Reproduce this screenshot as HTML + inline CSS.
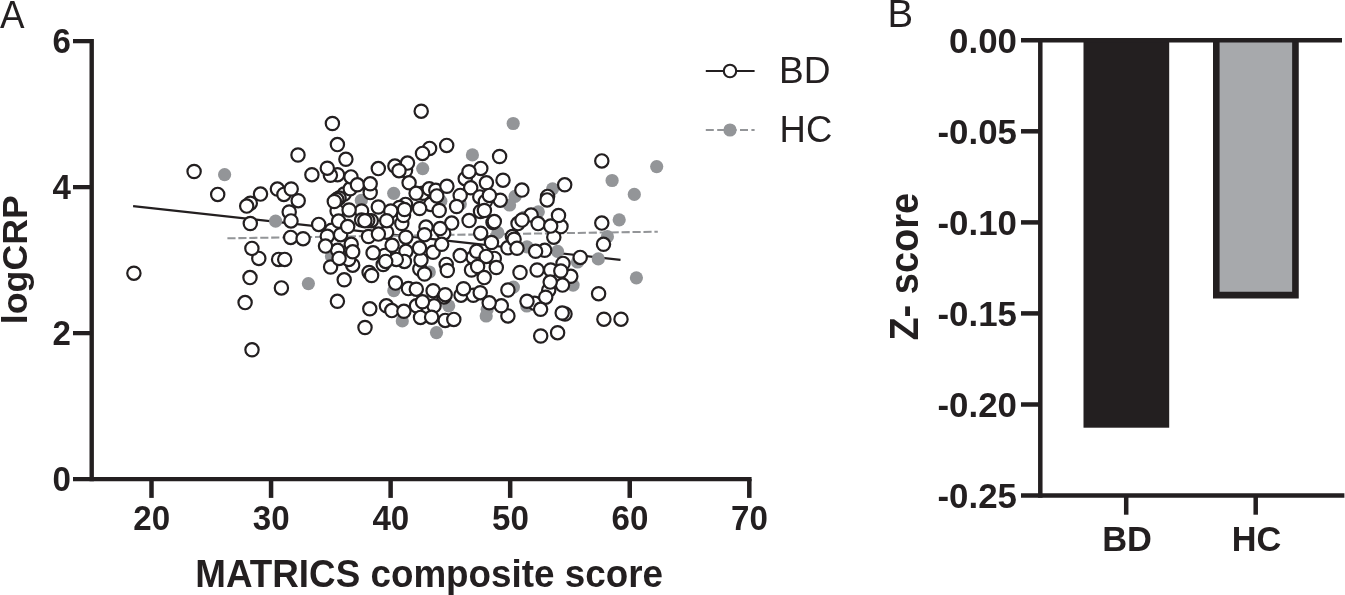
<!DOCTYPE html>
<html><head><meta charset="utf-8"><title>Figure</title>
<style>
html,body{margin:0;padding:0;background:#fff;}
svg{display:block;font-family:"Liberation Sans",Arial,Helvetica,sans-serif;}
text{fill:#231f20;}
.b{font-weight:bold;}
</style></head><body>
<svg width="1345" height="595" viewBox="0 0 1345 595">
<rect width="1345" height="595" fill="#fff"/>

<text transform="translate(0.00,28.00) scale(0.968,1)" font-size="38">A</text>
<g stroke="#231f20" fill="none">
<path d="M91.7 39.05V481.2" stroke-width="4.4"/>
<path d="M73 479.15H751.6" stroke-width="4.2"/>
<path d="M73 333.15H91.7" stroke-width="4.25"/>
<path d="M73 187.15H91.7" stroke-width="4.25"/>
<path d="M73 41.15H91.7" stroke-width="4.25"/>
<path d="M151.50 479V497.9" stroke-width="4.5"/>
<path d="M271.06 479V497.9" stroke-width="4.5"/>
<path d="M390.62 479V497.9" stroke-width="4.5"/>
<path d="M510.18 479V497.9" stroke-width="4.5"/>
<path d="M629.74 479V497.9" stroke-width="4.5"/>
<path d="M749.30 479V497.9" stroke-width="4.5"/>
</g>
<text class="b" transform="translate(71.00,490.65) scale(0.957,1)" font-size="34.6" text-anchor="end">0</text>
<text class="b" transform="translate(71.00,344.65) scale(0.957,1)" font-size="34.6" text-anchor="end">2</text>
<text class="b" transform="translate(71.00,198.65) scale(0.957,1)" font-size="34.6" text-anchor="end">4</text>
<text class="b" transform="translate(71.00,52.65) scale(0.957,1)" font-size="34.6" text-anchor="end">6</text>
<text class="b" transform="translate(151.70,530.40) scale(0.957,1)" font-size="34.6" text-anchor="middle">20</text>
<text class="b" transform="translate(271.26,530.40) scale(0.957,1)" font-size="34.6" text-anchor="middle">30</text>
<text class="b" transform="translate(390.82,530.40) scale(0.957,1)" font-size="34.6" text-anchor="middle">40</text>
<text class="b" transform="translate(510.38,530.40) scale(0.957,1)" font-size="34.6" text-anchor="middle">50</text>
<text class="b" transform="translate(629.94,530.40) scale(0.957,1)" font-size="34.6" text-anchor="middle">60</text>
<text class="b" transform="translate(749.50,530.40) scale(0.957,1)" font-size="34.6" text-anchor="middle">70</text>
<text class="b" transform="translate(195.30,587.10) scale(0.9662,1)" font-size="38.1">MATRICS composite score</text>
<text class="b" transform="translate(27.30,324.20) rotate(-90) scale(0.999,1)" font-size="35.8">logCRP</text>
<path d="M705.8 71H754.6" stroke="#231f20" stroke-width="2.2"/>
<circle cx="730" cy="71" r="6.2" fill="#fff" stroke="#231f20" stroke-width="2.1"/>
<path d="M705.8 130H754.6" stroke="#939598" stroke-width="2" stroke-dasharray="8 3.4"/>
<circle cx="730" cy="130" r="6.6" fill="#939598"/>
<text transform="translate(779.10,83.10)" font-size="37.1">BD</text>
<text transform="translate(779.60,142.10) scale(0.98,1)" font-size="37.2">HC</text>
<path d="M133.1 206.1L620.5 259.9" stroke="#231f20" stroke-width="2.15" fill="none"/>
<path d="M227.4 238.3L657.8 231.7" stroke="#939598" stroke-width="2.05" stroke-dasharray="8.15 2.8" fill="none"/>
<g fill="#939598">
<circle cx="224.6" cy="174.6" r="6.6"/>
<circle cx="513.2" cy="123.5" r="6.6"/>
<circle cx="472.4" cy="154.9" r="6.6"/>
<circle cx="422.7" cy="168.6" r="6.6"/>
<circle cx="393.7" cy="193.3" r="6.6"/>
<circle cx="361.3" cy="200.4" r="6.6"/>
<circle cx="515.1" cy="196.4" r="6.6"/>
<circle cx="509.6" cy="205.0" r="6.6"/>
<circle cx="440.8" cy="201.2" r="6.6"/>
<circle cx="460.3" cy="204.0" r="6.6"/>
<circle cx="538.3" cy="211.8" r="6.6"/>
<circle cx="524.0" cy="217.3" r="6.6"/>
<circle cx="612.1" cy="180.5" r="6.6"/>
<circle cx="634.3" cy="194.4" r="6.6"/>
<circle cx="552.6" cy="188.8" r="6.6"/>
<circle cx="656.7" cy="166.6" r="6.6"/>
<circle cx="275.6" cy="221.1" r="6.6"/>
<circle cx="331.5" cy="256.5" r="6.6"/>
<circle cx="429.3" cy="272.0" r="6.6"/>
<circle cx="497.8" cy="232.7" r="6.6"/>
<circle cx="527.0" cy="246.8" r="6.6"/>
<circle cx="557.5" cy="251.3" r="6.6"/>
<circle cx="619.2" cy="219.8" r="6.6"/>
<circle cx="607.4" cy="236.7" r="6.6"/>
<circle cx="598.3" cy="258.9" r="6.6"/>
<circle cx="577.5" cy="262.0" r="6.6"/>
<circle cx="308.4" cy="283.6" r="6.6"/>
<circle cx="393.8" cy="290.7" r="6.6"/>
<circle cx="448.7" cy="305.8" r="6.6"/>
<circle cx="402.3" cy="320.9" r="6.6"/>
<circle cx="436.5" cy="332.6" r="6.6"/>
<circle cx="513.4" cy="287.1" r="6.6"/>
<circle cx="526.8" cy="306.0" r="6.6"/>
<circle cx="487.2" cy="309.3" r="6.6"/>
<circle cx="486.2" cy="316.0" r="6.6"/>
<circle cx="636.4" cy="277.8" r="6.6"/>
<circle cx="573.1" cy="285.1" r="6.6"/>
</g>
<g fill="#fff" stroke="#231f20" stroke-width="2.2">
<circle cx="344.2" cy="194.0" r="6.65"/>
<circle cx="250.3" cy="203.2" r="6.65"/>
<circle cx="258.8" cy="258.4" r="6.65"/>
<circle cx="429.6" cy="148.4" r="6.65"/>
<circle cx="337.5" cy="174.7" r="6.65"/>
<circle cx="350.2" cy="188.8" r="6.65"/>
<circle cx="277.4" cy="189.1" r="6.65"/>
<circle cx="370.2" cy="192.6" r="6.65"/>
<circle cx="394.9" cy="166.1" r="6.65"/>
<circle cx="405.5" cy="170.5" r="6.65"/>
<circle cx="422.7" cy="193.3" r="6.65"/>
<circle cx="429.2" cy="188.8" r="6.65"/>
<circle cx="361.6" cy="211.0" r="6.65"/>
<circle cx="405.5" cy="204.4" r="6.65"/>
<circle cx="465.2" cy="178.7" r="6.65"/>
<circle cx="470.7" cy="187.8" r="6.65"/>
<circle cx="479.8" cy="196.9" r="6.65"/>
<circle cx="480.5" cy="211.5" r="6.65"/>
<circle cx="547.6" cy="196.4" r="6.65"/>
<circle cx="289.2" cy="212.0" r="6.65"/>
<circle cx="278.6" cy="259.4" r="6.65"/>
<circle cx="331.6" cy="230.2" r="6.65"/>
<circle cx="337.1" cy="211.0" r="6.65"/>
<circle cx="351.2" cy="244.3" r="6.65"/>
<circle cx="337.6" cy="250.3" r="6.65"/>
<circle cx="352.7" cy="265.2" r="6.65"/>
<circle cx="361.6" cy="220.1" r="6.65"/>
<circle cx="371.3" cy="220.7" r="6.65"/>
<circle cx="368.5" cy="236.5" r="6.65"/>
<circle cx="386.6" cy="232.2" r="6.65"/>
<circle cx="401.8" cy="223.5" r="6.65"/>
<circle cx="443.7" cy="233.2" r="6.65"/>
<circle cx="426.0" cy="227.1" r="6.65"/>
<circle cx="405.9" cy="251.3" r="6.65"/>
<circle cx="433.1" cy="252.3" r="6.65"/>
<circle cx="383.2" cy="264.5" r="6.65"/>
<circle cx="384.7" cy="255.4" r="6.65"/>
<circle cx="404.4" cy="261.4" r="6.65"/>
<circle cx="419.8" cy="269.0" r="6.65"/>
<circle cx="446.2" cy="264.4" r="6.65"/>
<circle cx="493.0" cy="222.5" r="6.65"/>
<circle cx="518.0" cy="223.6" r="6.65"/>
<circle cx="531.1" cy="215.0" r="6.65"/>
<circle cx="553.8" cy="237.2" r="6.65"/>
<circle cx="561.0" cy="226.6" r="6.65"/>
<circle cx="512.4" cy="236.6" r="6.65"/>
<circle cx="507.9" cy="247.8" r="6.65"/>
<circle cx="544.7" cy="250.3" r="6.65"/>
<circle cx="473.1" cy="257.4" r="6.65"/>
<circle cx="471.5" cy="270.0" r="6.65"/>
<circle cx="494.3" cy="258.4" r="6.65"/>
<circle cx="563.0" cy="263.4" r="6.65"/>
<circle cx="570.8" cy="276.3" r="6.65"/>
<circle cx="369.1" cy="272.5" r="6.65"/>
<circle cx="408.4" cy="288.6" r="6.65"/>
<circle cx="433.1" cy="290.7" r="6.65"/>
<circle cx="443.9" cy="296.9" r="6.65"/>
<circle cx="416.5" cy="305.8" r="6.65"/>
<circle cx="434.1" cy="305.8" r="6.65"/>
<circle cx="386.4" cy="305.8" r="6.65"/>
<circle cx="420.5" cy="317.4" r="6.65"/>
<circle cx="445.2" cy="320.4" r="6.65"/>
<circle cx="548.7" cy="290.2" r="6.65"/>
<circle cx="534.6" cy="303.3" r="6.65"/>
<circle cx="461.0" cy="295.2" r="6.65"/>
<circle cx="473.3" cy="295.3" r="6.65"/>
<circle cx="507.9" cy="315.9" r="6.65"/>
<circle cx="565.0" cy="314.0" r="6.65"/>
<circle cx="194.1" cy="171.5" r="6.65"/>
<circle cx="217.7" cy="194.4" r="6.65"/>
<circle cx="260.5" cy="194.1" r="6.65"/>
<circle cx="250.3" cy="223.5" r="6.65"/>
<circle cx="133.9" cy="273.2" r="6.65"/>
<circle cx="250.0" cy="277.6" r="6.65"/>
<circle cx="245.1" cy="302.6" r="6.65"/>
<circle cx="252.0" cy="349.8" r="6.65"/>
<circle cx="332.4" cy="123.5" r="6.65"/>
<circle cx="337.4" cy="144.6" r="6.65"/>
<circle cx="298.0" cy="155.0" r="6.65"/>
<circle cx="421.2" cy="111.2" r="6.65"/>
<circle cx="446.7" cy="145.4" r="6.65"/>
<circle cx="499.6" cy="156.5" r="6.65"/>
<circle cx="345.9" cy="159.3" r="6.65"/>
<circle cx="330.4" cy="175.3" r="6.65"/>
<circle cx="311.9" cy="174.7" r="6.65"/>
<circle cx="351.0" cy="176.9" r="6.65"/>
<circle cx="283.9" cy="194.4" r="6.65"/>
<circle cx="298.2" cy="200.7" r="6.65"/>
<circle cx="339.1" cy="198.0" r="6.65"/>
<circle cx="378.3" cy="168.6" r="6.65"/>
<circle cx="407.5" cy="163.1" r="6.65"/>
<circle cx="409.1" cy="182.8" r="6.65"/>
<circle cx="435.8" cy="190.3" r="6.65"/>
<circle cx="430.7" cy="204.4" r="6.65"/>
<circle cx="378.3" cy="207.0" r="6.65"/>
<circle cx="349.1" cy="210.0" r="6.65"/>
<circle cx="399.5" cy="207.5" r="6.65"/>
<circle cx="419.6" cy="208.5" r="6.65"/>
<circle cx="390.8" cy="211.0" r="6.65"/>
<circle cx="439.2" cy="210.5" r="6.65"/>
<circle cx="480.8" cy="168.4" r="6.65"/>
<circle cx="486.4" cy="182.8" r="6.65"/>
<circle cx="503.0" cy="180.2" r="6.65"/>
<circle cx="521.9" cy="190.1" r="6.65"/>
<circle cx="446.9" cy="186.3" r="6.65"/>
<circle cx="460.2" cy="195.4" r="6.65"/>
<circle cx="485.4" cy="201.4" r="6.65"/>
<circle cx="500.2" cy="200.2" r="6.65"/>
<circle cx="456.6" cy="206.5" r="6.65"/>
<circle cx="601.8" cy="160.9" r="6.65"/>
<circle cx="564.7" cy="184.8" r="6.65"/>
<circle cx="318.7" cy="224.4" r="6.65"/>
<circle cx="290.7" cy="237.4" r="6.65"/>
<circle cx="327.3" cy="236.2" r="6.65"/>
<circle cx="338.6" cy="221.1" r="6.65"/>
<circle cx="340.6" cy="234.7" r="6.65"/>
<circle cx="330.6" cy="267.0" r="6.65"/>
<circle cx="348.7" cy="259.4" r="6.65"/>
<circle cx="367.7" cy="220.4" r="6.65"/>
<circle cx="386.7" cy="220.7" r="6.65"/>
<circle cx="403.5" cy="215.5" r="6.65"/>
<circle cx="451.7" cy="223.1" r="6.65"/>
<circle cx="405.9" cy="237.2" r="6.65"/>
<circle cx="392.1" cy="245.3" r="6.65"/>
<circle cx="373.1" cy="252.8" r="6.65"/>
<circle cx="396.3" cy="259.4" r="6.65"/>
<circle cx="421.0" cy="259.9" r="6.65"/>
<circle cx="460.2" cy="255.6" r="6.65"/>
<circle cx="469.1" cy="220.6" r="6.65"/>
<circle cx="480.7" cy="233.2" r="6.65"/>
<circle cx="538.1" cy="223.6" r="6.65"/>
<circle cx="558.5" cy="215.5" r="6.65"/>
<circle cx="514.1" cy="239.2" r="6.65"/>
<circle cx="476.6" cy="251.3" r="6.65"/>
<circle cx="496.3" cy="267.5" r="6.65"/>
<circle cx="520.0" cy="272.5" r="6.65"/>
<circle cx="537.1" cy="270.0" r="6.65"/>
<circle cx="550.7" cy="270.0" r="6.65"/>
<circle cx="601.8" cy="223.1" r="6.65"/>
<circle cx="603.5" cy="244.3" r="6.65"/>
<circle cx="580.2" cy="257.4" r="6.65"/>
<circle cx="281.4" cy="287.9" r="6.65"/>
<circle cx="344.2" cy="279.8" r="6.65"/>
<circle cx="337.4" cy="301.3" r="6.65"/>
<circle cx="369.8" cy="308.8" r="6.65"/>
<circle cx="365.0" cy="327.5" r="6.65"/>
<circle cx="562.5" cy="285.1" r="6.65"/>
<circle cx="480.2" cy="292.7" r="6.65"/>
<circle cx="501.3" cy="305.8" r="6.65"/>
<circle cx="598.6" cy="293.7" r="6.65"/>
<circle cx="603.9" cy="319.2" r="6.65"/>
<circle cx="621.0" cy="319.2" r="6.65"/>
<circle cx="540.7" cy="336.0" r="6.65"/>
<circle cx="557.6" cy="332.7" r="6.65"/>
<circle cx="246.7" cy="206.1" r="6.65"/>
<circle cx="251.9" cy="248.4" r="6.65"/>
<circle cx="422.5" cy="153.4" r="6.65"/>
<circle cx="327.3" cy="168.2" r="6.65"/>
<circle cx="357.4" cy="184.8" r="6.65"/>
<circle cx="291.2" cy="189.0" r="6.65"/>
<circle cx="336.8" cy="199.6" r="6.65"/>
<circle cx="370.2" cy="183.8" r="6.65"/>
<circle cx="399.0" cy="170.7" r="6.65"/>
<circle cx="416.1" cy="193.3" r="6.65"/>
<circle cx="436.8" cy="195.9" r="6.65"/>
<circle cx="404.5" cy="209.5" r="6.65"/>
<circle cx="469.0" cy="171.7" r="6.65"/>
<circle cx="489.4" cy="195.4" r="6.65"/>
<circle cx="484.4" cy="210.5" r="6.65"/>
<circle cx="547.1" cy="199.9" r="6.65"/>
<circle cx="291.0" cy="220.9" r="6.65"/>
<circle cx="303.1" cy="238.7" r="6.65"/>
<circle cx="284.7" cy="259.4" r="6.65"/>
<circle cx="325.5" cy="246.1" r="6.65"/>
<circle cx="347.7" cy="226.6" r="6.65"/>
<circle cx="352.7" cy="251.8" r="6.65"/>
<circle cx="339.1" cy="258.4" r="6.65"/>
<circle cx="364.9" cy="220.7" r="6.65"/>
<circle cx="378.4" cy="234.1" r="6.65"/>
<circle cx="440.1" cy="228.6" r="6.65"/>
<circle cx="424.5" cy="234.7" r="6.65"/>
<circle cx="419.5" cy="248.1" r="6.65"/>
<circle cx="441.7" cy="244.3" r="6.65"/>
<circle cx="385.7" cy="261.4" r="6.65"/>
<circle cx="447.3" cy="270.5" r="6.65"/>
<circle cx="494.3" cy="221.6" r="6.65"/>
<circle cx="491.5" cy="242.5" r="6.65"/>
<circle cx="522.0" cy="220.1" r="6.65"/>
<circle cx="550.7" cy="226.1" r="6.65"/>
<circle cx="517.0" cy="248.3" r="6.65"/>
<circle cx="535.6" cy="251.3" r="6.65"/>
<circle cx="486.2" cy="256.4" r="6.65"/>
<circle cx="477.6" cy="266.5" r="6.65"/>
<circle cx="560.8" cy="271.0" r="6.65"/>
<circle cx="371.6" cy="275.5" r="6.65"/>
<circle cx="424.5" cy="274.0" r="6.65"/>
<circle cx="395.5" cy="283.1" r="6.65"/>
<circle cx="416.3" cy="289.2" r="6.65"/>
<circle cx="445.2" cy="294.7" r="6.65"/>
<circle cx="422.5" cy="301.8" r="6.65"/>
<circle cx="391.8" cy="310.6" r="6.65"/>
<circle cx="403.9" cy="311.3" r="6.65"/>
<circle cx="431.6" cy="317.2" r="6.65"/>
<circle cx="453.8" cy="319.4" r="6.65"/>
<circle cx="484.2" cy="277.6" r="6.65"/>
<circle cx="550.2" cy="282.1" r="6.65"/>
<circle cx="545.7" cy="297.2" r="6.65"/>
<circle cx="527.0" cy="301.3" r="6.65"/>
<circle cx="540.6" cy="309.3" r="6.65"/>
<circle cx="507.9" cy="290.0" r="6.65"/>
<circle cx="463.5" cy="288.7" r="6.65"/>
<circle cx="489.2" cy="302.8" r="6.65"/>
<circle cx="562.2" cy="313.0" r="6.65"/>
<circle cx="334.3" cy="201.5" r="6.65"/>
</g>
<text transform="translate(887.45,27.20)" font-size="38.4">B</text>
<rect x="1083.5" y="40" width="85.7" height="387.7" fill="#231f20"/>
<path d="M1216.3 40V295.15H1295.45V40" fill="#a7a9ac" stroke="#231f20" stroke-width="6.6"/>
<g stroke="#231f20" stroke-width="4.5" fill="none">
<path d="M1040.3 38V497.7"/>
<path d="M1021 40.3H1342"/>
<path d="M1021 495.4H1344.4"/>
<path d="M1021 131.3H1040"/>
<path d="M1021 222.4H1040"/>
<path d="M1021 313.4H1040"/>
<path d="M1021 404.5H1040"/>
<path d="M1126.2 495V514.7"/>
<path d="M1255.7 495V514.7"/>
</g>
<text class="b" transform="translate(1016.90,52.95) scale(0.979,1)" font-size="35.6" text-anchor="end">0.00</text>
<text class="b" transform="translate(1016.90,144.00) scale(0.979,1)" font-size="35.6" text-anchor="end">-0.05</text>
<text class="b" transform="translate(1016.90,235.05) scale(0.979,1)" font-size="35.6" text-anchor="end">-0.10</text>
<text class="b" transform="translate(1016.90,326.10) scale(0.979,1)" font-size="35.6" text-anchor="end">-0.15</text>
<text class="b" transform="translate(1016.90,417.15) scale(0.979,1)" font-size="35.6" text-anchor="end">-0.20</text>
<text class="b" transform="translate(1016.90,508.20) scale(0.979,1)" font-size="35.6" text-anchor="end">-0.25</text>
<text class="b" transform="translate(1127.00,551.10) scale(0.957,1)" font-size="36.0" text-anchor="middle">BD</text>
<text class="b" transform="translate(1256.50,551.10) scale(0.953,1)" font-size="36.0" text-anchor="middle">HC</text>
<text class="b" transform="translate(918.25,340.60) rotate(-90) scale(0.945,1)" font-size="40.2">Z- score</text>
</svg></body></html>
